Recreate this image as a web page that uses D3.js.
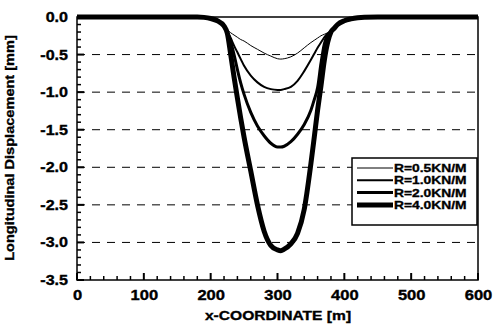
<!DOCTYPE html>
<html><head><meta charset="utf-8">
<script src="https://cdn.jsdelivr.net/npm/d3@7"></script>
<style>
html,body{margin:0;padding:0;background:#fff;}
svg text{font-family:"Liberation Sans",Arial,sans-serif;font-weight:bold;fill:#000;stroke:#000;stroke-width:0.35px;}
</style></head>
<body><svg id="c" width="493" height="324"></svg>
<script>
const xCoord = [0,100,150,180,190,200,210,220,225,230,235,240,245,250,260,270,280,290,300,305,310,320,330,340,350,355,360,365,370,375,380,385,390,400,410,420,430,450,500,600];
const r05 = [0,0,0,0,-0.005,-0.02,-0.05,-0.12,-0.17,-0.21,-0.24,-0.27,-0.30,-0.32,-0.38,-0.43,-0.48,-0.52,-0.555,-0.56,-0.555,-0.53,-0.48,-0.41,-0.34,-0.31,-0.28,-0.25,-0.23,-0.21,-0.18,-0.14,-0.10,-0.05,-0.025,-0.01,-0.003,0,0,0];
const r10 = [0,0,0,0,-0.005,-0.02,-0.05,-0.12,-0.19,-0.28,-0.38,-0.47,-0.56,-0.65,-0.78,-0.87,-0.93,-0.96,-0.97,-0.97,-0.96,-0.93,-0.85,-0.72,-0.57,-0.49,-0.41,-0.34,-0.27,-0.22,-0.19,-0.14,-0.10,-0.05,-0.025,-0.01,-0.003,0,0,0];
const r20 = [0,0,0,0,-0.005,-0.02,-0.05,-0.12,-0.20,-0.33,-0.50,-0.70,-0.88,-1.03,-1.27,-1.45,-1.58,-1.68,-1.73,-1.73,-1.72,-1.66,-1.56,-1.43,-1.24,-1.10,-0.94,-0.62,-0.36,-0.24,-0.19,-0.14,-0.10,-0.05,-0.025,-0.01,-0.003,0,0,0];
const r40 = [0,0,0,0,-0.005,-0.02,-0.05,-0.12,-0.22,-0.50,-0.80,-1.08,-1.35,-1.60,-2.05,-2.50,-2.85,-3.04,-3.10,-3.11,-3.09,-3.02,-2.88,-2.56,-1.95,-1.60,-1.24,-0.92,-0.58,-0.34,-0.20,-0.15,-0.10,-0.05,-0.025,-0.01,-0.003,0,0,0];
const seriesNames = ["R=0.5KN/M","R=1.0KN/M","R=2.0KN/M","R=4.0KN/M"];
const seriesValues = [r05,r10,r20,r40];
const lineWidths = [1,2,3,5];
const xTicks = [0,100,200,300,400,500,600];
const yTicks = [0,-0.5,-1.0,-1.5,-2.0,-2.5,-3.0,-3.5];
const gridValues = [-0.5,-1.0,-1.5,-2.0,-2.5,-3.0];

const svg = d3.select("#c");
const x = d3.scaleLinear().domain([0,600]).range([77,478]);
const y = d3.scaleLinear().domain([-3.5,0]).range([280,17]);

function stretch(sel, f){
  sel.each(function(){
    const w = this.getComputedTextLength();
    d3.select(this).attr("textLength", w*f).attr("lengthAdjust","spacingAndGlyphs");
  });
}

// grid
svg.append("g").selectAll("line").data(gridValues).join("line")
  .attr("x1",x(0)).attr("x2",x(600)).attr("y1",d=>y(d)).attr("y2",d=>y(d))
  .attr("stroke","#000").attr("stroke-width",1).attr("stroke-dasharray","8,7");

// ticks (inside)
const xAll = d3.range(0,601,20);
const yAll = d3.range(0,36).map(i=>-i/10);
const tg = svg.append("g");
tg.selectAll("line.xt").data(xAll).join("line").attr("class","xt")
  .attr("x1",d=>x(d)).attr("x2",d=>x(d))
  .attr("y1",y(-3.5)).attr("y2",d=>y(-3.5)-(d%100===0?7:4))
  .style("stroke","#000")
  .style("stroke-width",d=>d%100===0?"2px":"1.5px");
tg.selectAll("line.yt").data(yAll).join("line").attr("class","yt")
  .attr("y1",d=>y(d)).attr("y2",d=>y(d))
  .attr("x1",x(0)).attr("x2",d=>x(0)+(Math.round(-d*10)%5===0?7:4))
  .style("stroke","#000")
  .style("stroke-width",d=>Math.round(-d*10)%5===0?"2px":"1.5px");

// tick labels
const gx = svg.append("g").attr("transform",`translate(0,${y(-3.5)})`)
  .call(d3.axisBottom(x).tickValues(xTicks).tickSize(0).tickPadding(10).tickFormat(d3.format("d")));
gx.select(".domain").remove();
gx.selectAll("text").attr("font-size",14).attr("font-family","Liberation Sans").attr("font-weight","bold").call(stretch,1.18);
const gy = svg.append("g").attr("transform",`translate(${x(0)},0)`)
  .call(d3.axisLeft(y).tickValues(yTicks).tickSize(0).tickPadding(9).tickFormat(d3.format(".1f")));
gy.select(".domain").remove();
gy.selectAll("text").attr("font-size",14).attr("font-family","Liberation Sans").attr("font-weight","bold")
  .text(d=>d3.format(".1f")(d).replace("−","-")).call(stretch,1.15);

// frame
svg.append("rect").attr("x",x(0)).attr("y",y(0)).attr("width",x(600)-x(0)).attr("height",y(-3.5)-y(0))
  .attr("fill","none").attr("stroke","#000").attr("stroke-width",1.5);

// lines
const line = d3.line().x((d,i)=>x(xCoord[i])).y(d=>y(d)).curve(d3.curveMonotoneX);
svg.append("g").selectAll("path").data(seriesValues).join("path")
  .attr("d",d=>line(d)).attr("fill","none").attr("stroke","#000")
  .attr("stroke-width",(d,i)=>lineWidths[i]).attr("stroke-linejoin","round");

// legend
const lg = svg.append("g");
lg.append("rect").attr("x",352).attr("y",158).attr("width",125).attr("height",67)
  .attr("fill","#fff").attr("stroke","#000").attr("stroke-width",1.5);
seriesNames.forEach((n,i)=>{
  const yy = 168 + i*12.3;
  lg.append("line").attr("x1",357).attr("x2",393).attr("y1",yy).attr("y2",yy)
    .attr("stroke","#000").attr("stroke-width",lineWidths[i]);
  lg.append("text").attr("x",394).attr("y",yy+4).attr("font-size",11.5).text(n).call(stretch,1.2);
});

// titles
svg.append("text").attr("x",278).attr("y",320).attr("text-anchor","middle").attr("font-size",13)
  .text("x-COORDINATE [m]").call(stretch,1.2);
svg.append("text").attr("transform","translate(14,148) rotate(-90)").attr("text-anchor","middle").attr("font-size",13)
  .text("Longitudinal Displacement [mm]").call(stretch,1.12);
</script></body></html>
